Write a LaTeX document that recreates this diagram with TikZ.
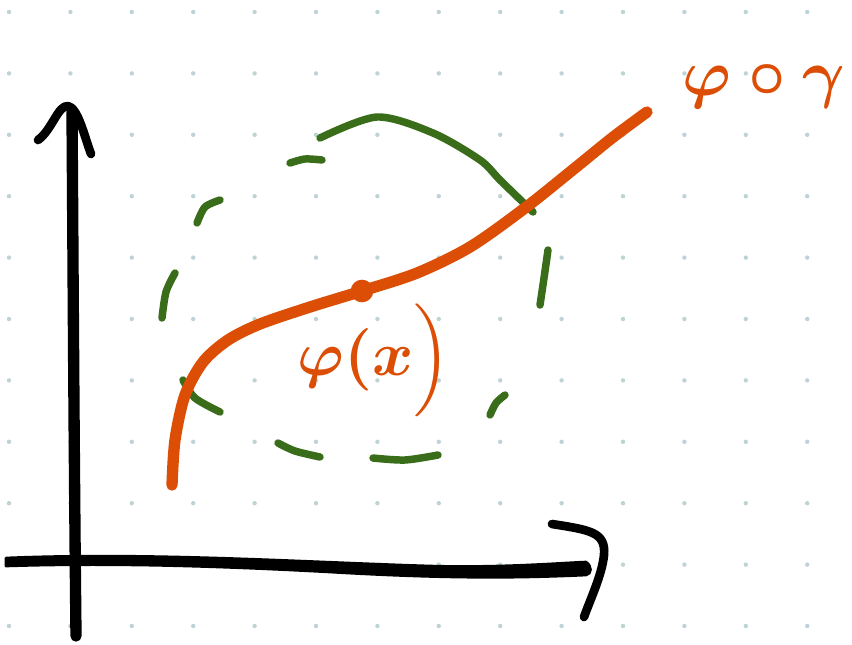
\documentclass[tikz,border=0pt]{standalone}
\usepackage{amsmath,amssymb}
\usepackage{xcolor}
\usepackage{tikz}
\usetikzlibrary{calc,positioning}
\definecolor{inkOrange}{HTML}{DC4E05}
\definecolor{inkGreen}{HTML}{3A6D1A}
\definecolor{dotGrey}{HTML}{BDD3D6}

\begin{document}
\begin{tikzpicture}[
    x=0.75pt,y=-0.75pt,
    line cap=round,line join=round,
    axis/.style={draw=black,line width=8.5pt},
    arrowtip/.style={draw=black,line width=6.5pt},
    curve/.style={draw=inkOrange,line width=8.5pt},
    bound/.style={draw=inkGreen,line width=5.6pt},
    pointdot/.style={circle,fill=inkOrange,inner sep=0pt,minimum size=17pt},
    handlabel/.style={text=inkOrange,inner sep=0pt}
  ]
    \fill[white] (0,0) rectangle (852,644);
    \useasboundingbox (0,0) rectangle (852,644);
    \foreach \i in {0,...,13}
      \foreach \j in {0,...,10}
        \fill[dotGrey] (9+61.4*\i,12+61.4*\j) circle[radius=2.2];

    \coordinate (yfoot) at (76,636);
    \coordinate (ytop) at (72,112);
    \coordinate (xstart) at (6,562);
    \coordinate (xend) at (588,569);
    \draw[axis] (yfoot) .. controls (74,450) and (73,250) .. (ytop);
    \draw[arrowtip] (38,140) .. controls (52,130) and (58,105) .. (68,106)
      .. controls (78,108) and (84,135) .. (91,154);
    \filldraw[black,line width=2pt] (xstart) ++(0,-4) .. controls (150,552) and (300,562) .. (430,566)
      .. controls (500,568) and (560,563) .. (586,562)
      .. controls (592,566) and (592,574) .. (586,575)
      .. controls (520,578) and (450,579) .. (330,572)
      .. controls (200,565) and (100,563) .. (6,566) -- cycle;
    \draw[arrowtip] (552,524) .. controls (590,530) and (606,532) .. (604,555)
      .. controls (602,575) and (590,600) .. (584,617);

    \draw[bound] plot[smooth] coordinates {(320,138) (377,117) (433,133) (480,160) (500,180) (533,212)};
    \draw[bound] plot[smooth] coordinates {(290,163) (305,159) (322,160)};
    \draw[bound] plot[smooth] coordinates {(220,200) (205,207) (197,223)};
    \draw[bound] plot[smooth] coordinates {(175,273) (166,292) (162,318)};
    \draw[bound] plot[smooth] coordinates {(183,380) (195,398) (220,412)};
    \draw[bound] plot[smooth] coordinates {(278,443) (295,451) (320,457)};
    \draw[bound] plot[smooth] coordinates {(373,458) (405,460) (438,455)};
    \draw[bound] plot[smooth] coordinates {(490,415) (496,403) (505,395)};
    \draw[bound] plot[smooth] coordinates {(548,250) (544,278) (540,305)};

    \draw[curve] plot[smooth] coordinates {(172,485) (175,440) (185,395) (203,362)
      (228,340) (260,324) (310,307) (362,291) (417,273) (470,247) (525,208)
      (575,168) (612,138) (647,112)};
    \node[pointdot] (xpt) at (362,291) {};

    \node[handlabel] (phix) at (374,360) {\scalebox{4.7}{\boldmath$\varphi(x\Bigr)$}};
    \node[handlabel] (comp) at (764,86) {\scalebox{4.9}{\boldmath$\varphi\circ\gamma$}};
  \end{tikzpicture}
\end{document}
